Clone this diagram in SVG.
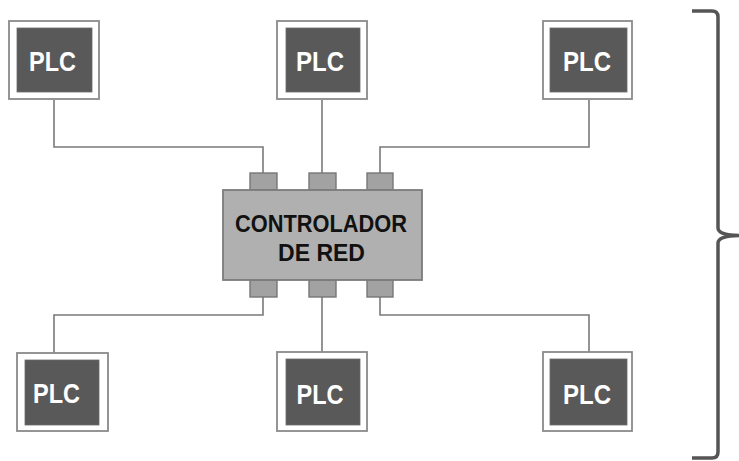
<svg xmlns="http://www.w3.org/2000/svg" width="739" height="461" viewBox="0 0 739 461">
  <style>
    .frame { fill: #ffffff; stroke: #8a8a8a; stroke-width: 1.8; }
    .core { fill: #595959; stroke: #6a6a6a; stroke-width: 0.8; }
    .plc { font-family: "Liberation Sans", Arial, sans-serif; font-weight: bold; font-size: 28px; fill: #ffffff; text-anchor: middle; }
    .wire { fill: none; stroke: #7a7a7a; stroke-width: 1.6; }
    .port { fill: #a2a2a2; stroke: #777777; stroke-width: 1.4; }
    .hub { fill: #b0b0b0; stroke: #7c7c7c; stroke-width: 1.8; }
    .hubtxt { font-family: "Liberation Sans", Arial, sans-serif; font-weight: bold; font-size: 24px; fill: #111111; text-anchor: middle; }
    .brace { fill: none; stroke: #555555; stroke-width: 3.5; stroke-linejoin: round; }
  </style>

  <!-- connectors -->
  <g id="connectors">
    <path class="wire" d="M54,100 V147 H263 V173"/>
    <path class="wire" d="M322,100 V173"/>
    <path class="wire" d="M589,100 V147 H380 V173"/>
    <path class="wire" d="M263,297 V315 H54 V353"/>
    <path class="wire" d="M322,297 V352"/>
    <path class="wire" d="M380,297 V315 H589 V352"/>
  </g>

  <!-- network controller -->
  <g id="controlador">
    <rect class="port" x="250" y="173" width="27" height="17"/>
    <rect class="port" x="309" y="173" width="27" height="17"/>
    <rect class="port" x="367" y="173" width="26" height="17"/>
    <rect class="port" x="250" y="280" width="27" height="17"/>
    <rect class="port" x="309" y="280" width="27" height="17"/>
    <rect class="port" x="367" y="280" width="26" height="17"/>
    <rect class="hub" x="223" y="190" width="199" height="90"/>
    <text class="hubtxt" x="321" y="232" textLength="172" lengthAdjust="spacingAndGlyphs">CONTROLADOR</text>
    <text class="hubtxt" x="321.5" y="261" textLength="87" lengthAdjust="spacingAndGlyphs">DE RED</text>
  </g>

  <!-- PLC nodes -->
  <g id="plc-top-left">
    <rect class="frame" x="9" y="21" width="90" height="78"/>
    <rect class="core" x="17" y="28" width="75" height="64"/>
    <text class="plc" x="52.5" y="71" textLength="47" lengthAdjust="spacingAndGlyphs">PLC</text>
  </g>
  <g id="plc-top-center">
    <rect class="frame" x="277" y="21" width="90" height="78"/>
    <rect class="core" x="286" y="28" width="74" height="64"/>
    <text class="plc" x="320" y="71" textLength="48" lengthAdjust="spacingAndGlyphs">PLC</text>
  </g>
  <g id="plc-top-right">
    <rect class="frame" x="543" y="21" width="89" height="78"/>
    <rect class="core" x="550" y="28" width="77" height="64"/>
    <text class="plc" x="587" y="71" textLength="48" lengthAdjust="spacingAndGlyphs">PLC</text>
  </g>
  <g id="plc-bottom-left">
    <rect class="frame" x="17" y="353" width="91" height="78"/>
    <rect class="core" x="25" y="360" width="74" height="65"/>
    <text class="plc" x="56.5" y="403" textLength="47" lengthAdjust="spacingAndGlyphs">PLC</text>
  </g>
  <g id="plc-bottom-center">
    <rect class="frame" x="277" y="352" width="90" height="79"/>
    <rect class="core" x="286" y="359" width="74" height="66"/>
    <text class="plc" x="320" y="404" textLength="47" lengthAdjust="spacingAndGlyphs">PLC</text>
  </g>
  <g id="plc-bottom-right">
    <rect class="frame" x="543" y="352" width="89" height="79"/>
    <rect class="core" x="550" y="359" width="77" height="66"/>
    <text class="plc" x="587" y="404" textLength="48" lengthAdjust="spacingAndGlyphs">PLC</text>
  </g>

  <!-- grouping brace -->
  <g id="brace">
    <path class="brace" d="M692,11 H712 Q718,11 718,17 V228 Q718,235 739,235.5 Q718,236 718,243 V452 Q718,458 712,458 H692"/>
  </g>
</svg>
